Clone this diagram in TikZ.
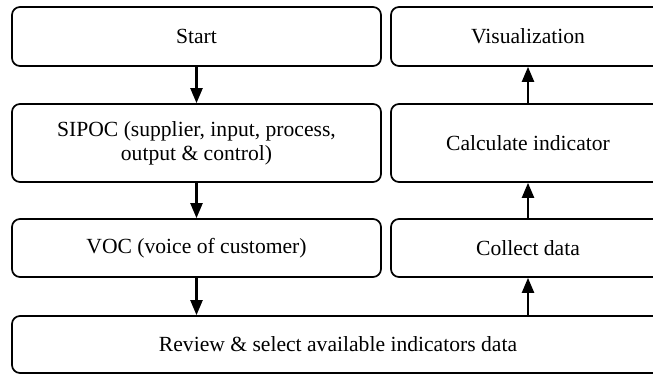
\documentclass[tikz,border=0pt]{standalone}
\usepackage{fontspec}
\setmainfont{Liberation Serif}
\usetikzlibrary{arrows.meta}
\begin{document}
\begin{tikzpicture}[x=1pt,y=-1pt,
  stepbox/.style={draw=black, line width=1.7pt, rounded corners=8pt, inner sep=0pt,
    align=center, font=\fontsize{21.6}{24}\selectfont},
  flow/.style={line width=2.2pt, -{Triangle[width=12pt,length=15pt]}}]
  \clip (0,0) rectangle (653,374);
  % left column
  \node[stepbox, minimum width=369pt, minimum height=59pt] (start) at (196.5,36.5) {Start};
  \node[stepbox, minimum width=369pt, minimum height=78pt] (sipoc) at (196.5,143) {SIPOC (supplier, input, process,\\output \& control)};
  \node[stepbox, minimum width=369pt, minimum height=58pt] (voc) at (196.5,248) {VOC (voice of customer)};
  % bottom bar
  \node[stepbox, minimum width=652pt, minimum height=57pt] (review) at (338,344.5) {Review \& select available indicators data};
  % right column
  \node[stepbox, minimum width=274pt, minimum height=59pt] (vis) at (528,36.5) {Visualization};
  \node[stepbox, minimum width=274pt, minimum height=78pt] (calc) at (528,143) {Calculate indicator};
  \node[stepbox, minimum width=274pt, minimum height=58pt] (collect) at (528,248) {Collect data};
  % connectors
  \draw[flow] (start.south) -- (sipoc.north);
  \draw[flow] (sipoc.south) -- (voc.north);
  \draw[flow] (voc.south) -- (voc.south |- review.north);
  \draw[flow] (review.north -| collect.south) -- (collect.south);
  \draw[flow] (collect.north) -- (calc.south);
  \draw[flow] (calc.north) -- (vis.south);
\end{tikzpicture}
\end{document}
